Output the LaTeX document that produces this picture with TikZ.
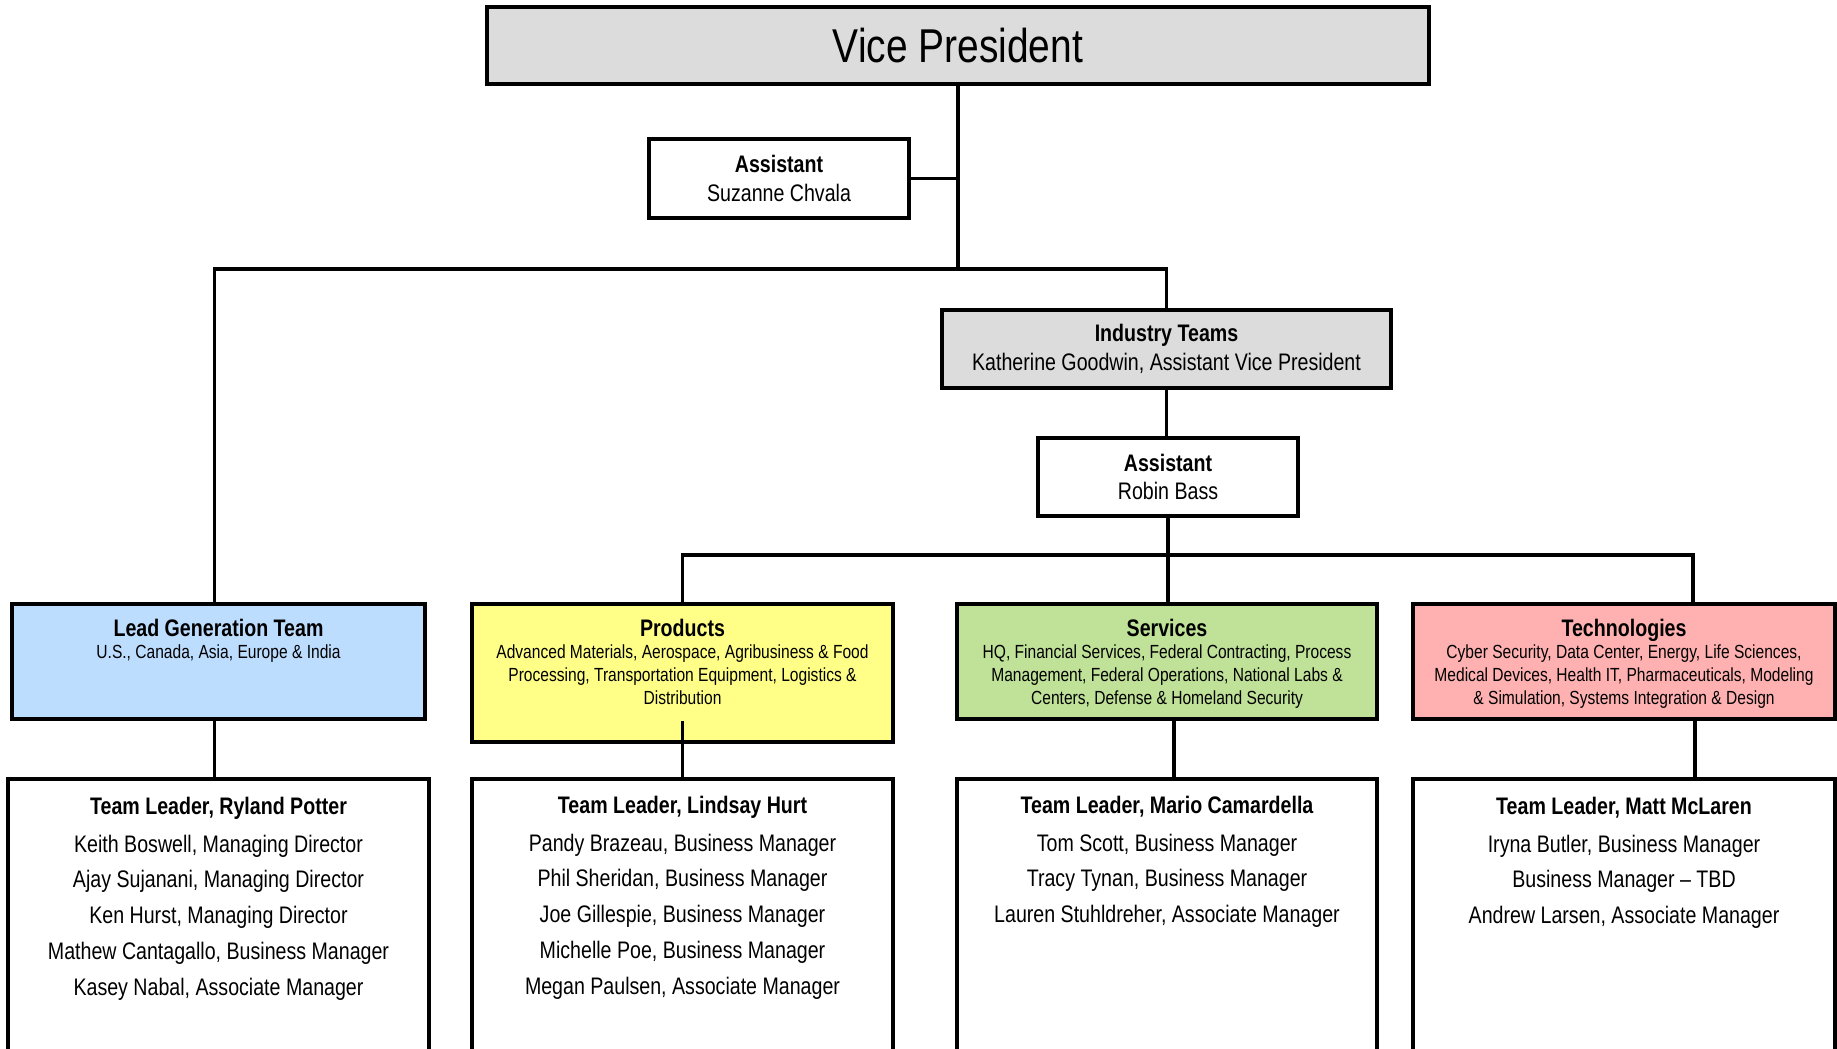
\documentclass[tikz,border=0pt]{standalone}
\usepackage{fontspec}
\setmainfont{Liberation Sans}[FakeStretch=0.82]
\usepackage{tikz}
\usetikzlibrary{calc,positioning}
\definecolor{grisvp}{RGB}{220,220,220}
\definecolor{azul}{RGB}{189,221,255}
\definecolor{amarillo}{RGB}{255,255,136}
\definecolor{verde}{RGB}{192,225,152}
\definecolor{rosa}{RGB}{255,177,177}
\tikzset{
  caja/.style={draw=black,line width=1.1pt,inner sep=0pt,align=center},
  linea/.style={draw=black,line width=1pt},
  txt/.style={font=\fontsize{6.8}{8.1}\selectfont,align=center},
  sub/.style={font=\fontsize{5.4}{6.5}\selectfont,align=center,inner sep=0pt},
  lista/.style={font=\fontsize{6.8}{10.2}\selectfont,align=center,inner sep=0pt},
  jefe/.style={font=\bfseries\fontsize{6.8}{8.1}\selectfont,inner sep=0pt}
}

\begin{document}
\begin{tikzpicture}[x=0.01cm,y=-0.01cm]
\useasboundingbox (0,0) rectangle (1837,1048);
\clip (0,0) rectangle (1837,1048);
% direccion
\node[caja,fill=grisvp,minimum width=9.42cm,minimum height=0.77cm,font=\fontsize{13.5}{16}\selectfont] (vp) at (958,45.5) {Vice President};
\node[caja,txt,fill=white,minimum width=2.6cm,minimum height=0.79cm] (asis1) at (779,178.5) {\textbf{Assistant}\\Suzanne Chvala};
\node[caja,txt,fill=grisvp,minimum width=4.49cm,minimum height=0.78cm] (ind) at (1166.5,349) {\textbf{Industry Teams}\\Katherine Goodwin, Assistant Vice President};
\node[caja,txt,fill=white,minimum width=2.6cm,minimum height=0.78cm] (asis2) at (1168,477) {\textbf{Assistant}\\Robin Bass};
% equipos
\node[caja,fill=azul,anchor=north,minimum width=4.13cm,minimum height=1.15cm] (lg) at (218.5,602) {};
\node[caja,fill=amarillo,anchor=north,minimum width=4.21cm,minimum height=1.38cm] (prod) at (682.5,602) {};
\node[caja,fill=verde,anchor=north,minimum width=4.20cm,minimum height=1.15cm] (serv) at (1167,602) {};
\node[caja,fill=rosa,anchor=north,minimum width=4.22cm,minimum height=1.15cm] (tec) at (1624,602) {};
\node[jefe,anchor=base] (lgt) at ($(lg.north)+(0,34)$) {Lead Generation Team};
\node[sub,anchor=north] (lgs) at ($(lg.north)+(0,42)$) {U.S., Canada, Asia, Europe \& India};
\node[jefe,anchor=base] (prodt) at ($(prod.north)+(0,34)$) {Products};
\node[sub,anchor=north] (prods) at ($(prod.north)+(0,42)$) {Advanced Materials, Aerospace, Agribusiness \& Food\\Processing, Transportation Equipment, Logistics \&\\Distribution};
\node[jefe,anchor=base] (servt) at ($(serv.north)+(0,34)$) {Services};
\node[sub,anchor=north] (servs) at ($(serv.north)+(0,42)$) {HQ, Financial Services, Federal Contracting, Process\\Management, Federal Operations, National Labs \&\\Centers, Defense \& Homeland Security};
\node[jefe,anchor=base] (tect) at ($(tec.north)+(0,34)$) {Technologies};
\node[sub,anchor=north] (tecs) at ($(tec.north)+(0,42)$) {Cyber Security, Data Center, Energy, Life Sciences,\\Medical Devices, Health IT, Pharmaceuticals, Modeling\\\& Simulation, Systems Integration \& Design};
% personas
\node[caja,fill=white,anchor=north,minimum width=4.21cm,minimum height=3cm] (lgb) at (218.5,777) {};
\node[caja,fill=white,anchor=north,minimum width=4.21cm,minimum height=3cm] (prodb) at (682.5,777) {};
\node[caja,fill=white,anchor=north,minimum width=4.20cm,minimum height=3cm] (servb) at (1167,777) {};
\node[caja,fill=white,anchor=north,minimum width=4.22cm,minimum height=3cm] (tecb) at (1624,777) {};
\node[jefe,anchor=base] at ($(lgb.north)+(0,37)$) {Team Leader, Ryland Potter};
\node[lista,anchor=north] at ($(lgb.north)+(0,57)$) {Keith Boswell, Managing Director\\Ajay Sujanani, Managing Director\\Ken Hurst, Managing Director\\Mathew Cantagallo, Business Manager\\Kasey Nabal, Associate Manager};
\node[jefe,anchor=base] at ($(prodb.north)+(0,36)$) {Team Leader, Lindsay Hurt};
\node[lista,anchor=north] at ($(prodb.north)+(0,56)$) {Pandy Brazeau, Business Manager\\Phil Sheridan, Business Manager\\Joe Gillespie, Business Manager\\Michelle Poe, Business Manager\\Megan Paulsen, Associate Manager};
\node[jefe,anchor=base] at ($(servb.north)+(0,36)$) {Team Leader, Mario Camardella};
\node[lista,anchor=north] at ($(servb.north)+(0,56)$) {Tom Scott, Business Manager\\Tracy Tynan, Business Manager\\Lauren Stuhldreher, Associate Manager};
\node[jefe,anchor=base] at ($(tecb.north)+(0,37)$) {Team Leader, Matt McLaren};
\node[lista,anchor=north] at ($(tecb.north)+(0,57)$) {Iryna Butler, Business Manager\\Business Manager -- TBD\\Andrew Larsen, Associate Manager};
% lineas
\coordinate (bus1) at (958,269);
\coordinate (bus2) at (1168,555);
\draw[linea] (vp.south) -- (bus1);
\draw[linea] (asis1.east) -- (asis1.east -| bus1);
\draw[linea] ([xshift=-0.04cm]lg.north) |- (bus1) -| (ind.north);
\draw[linea] (ind.south) -- (ind.south |- asis2.north);
\draw[linea] (asis2.south) -- (asis2.south |- serv.north);
\draw[linea] (prod.north) |- (bus2) -| ([xshift=0.69cm]tec.north);
\draw[linea] ([xshift=-0.04cm]lg.south) -- ([xshift=-0.04cm]lgb.north);
\draw[linea] ([yshift=0.23cm]prod.south) -- (prodb.north);
\draw[linea] ([xshift=0.07cm]serv.south) -- ([xshift=0.07cm]servb.north);
\draw[linea] ([xshift=0.71cm]tec.south) -- ([xshift=0.71cm]tecb.north);
\end{tikzpicture}
\end{document}
